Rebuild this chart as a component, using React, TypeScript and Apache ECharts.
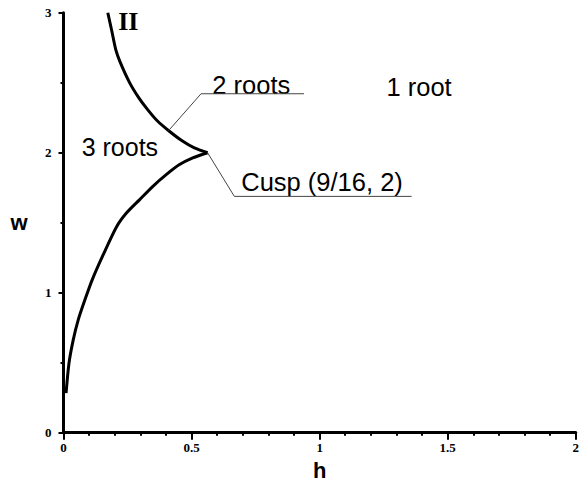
import React, { useEffect, useRef } from "react";
import * as echarts from "echarts";

// Bifurcation set in the (h, w) plane: two fold branches meeting at the cusp.
const lowerBranch: [number, number][] = [
  [0.01, 0.282], [0.0214, 0.496], [0.038, 0.663], [0.0575, 0.806], [0.0836, 0.949],
  [0.112, 1.092], [0.1547, 1.27], [0.2068, 1.47], [0.2457, 1.569], [0.2974, 1.665],
  [0.349, 1.76], [0.401, 1.843], [0.453, 1.915], [0.5046, 1.963], [0.5625, 2.0],
];
const upperBranch: [number, number][] = [
  [0.173, 3.0], [0.19, 2.857], [0.204, 2.737], [0.2216, 2.645], [0.2585, 2.499],
  [0.2935, 2.394], [0.3285, 2.308], [0.367, 2.226], [0.412, 2.155], [0.4645, 2.083],
  [0.511, 2.034], [0.5625, 2.0],
];

const hTickLabels = ["0", "0.5", "1", "1.5", "2"];
const wTickLabels = ["0", "1", "2", "3"];

// Leader lines (data coordinates)
const twoRootsLeader: [number, number][] = [[0.41, 2.157], [0.537, 2.421], [0.939, 2.421]];
const cuspLeader: [number, number][] = [[0.5625, 2.0], [0.667, 1.688], [1.359, 1.688]];

// Region / point annotations: text, anchor [h, w], alignment
const regionLabels: { text: string; at: [number, number]; align: string; size: number; serif?: boolean }[] = [
  { text: "2 roots", at: [0.581, 2.485], align: "left", size: 25.5 },
  { text: "1 root", at: [1.261, 2.47], align: "left", size: 25.5 },
  { text: "3 roots", at: [0.071, 2.04], align: "left", size: 25 },
  { text: "Cusp (9/16, 2)", at: [0.694, 1.79], align: "left", size: 25.5 },
  { text: "II", at: [0.253, 2.94], align: "center", size: 26, serif: true },
];

export default function App() {
  const ref = useRef<HTMLDivElement>(null);

  useEffect(() => {
    if (!ref.current) return;
    const chart = echarts.init(ref.current, undefined, { renderer: "svg" });
    const tickFont = {
      fontFamily: "Liberation Serif",
      fontWeight: "bold" as const,
      fontSize: 13,
      color: "#000",
    };
    const nameFont = {
      fontFamily: "Liberation Sans",
      fontWeight: "bold" as const,
      fontSize: 22,
      color: "#000",
    };
    const branchStyle = { color: "#000", width: 3 };
    chart.setOption({
      animation: false,
      backgroundColor: "#fff",
      grid: { left: 63.5, right: 4, top: 12.7, bottom: 54.3 },
      xAxis: {
        type: "value",
        min: 0,
        max: 2,
        interval: 0.5,
        name: "h",
        nameLocation: "middle",
        nameGap: 27,
        nameTextStyle: nameFont,
        axisLine: { onZero: false, lineStyle: { color: "#000", width: 3 } },
        axisTick: { length: 7, lineStyle: { color: "#000", width: 2 } },
        minorTick: { show: true, splitNumber: 5, length: 3, lineStyle: { color: "#000", width: 2 } },
        splitLine: { show: false },
        axisLabel: {
          ...tickFont,
          margin: 8,
          formatter: (v: number) => hTickLabels[Math.round(v / 0.5)] ?? "",
        },
      },
      yAxis: {
        type: "value",
        min: 0,
        max: 3,
        interval: 1,
        name: "w",
        nameLocation: "middle",
        nameRotate: 0,
        nameGap: 36,
        nameTextStyle: nameFont,
        axisLine: { onZero: false, lineStyle: { color: "#000", width: 3 } },
        axisTick: { length: 5, lineStyle: { color: "#000", width: 2 } },
        minorTick: { show: true, splitNumber: 2, length: 3, lineStyle: { color: "#000", width: 2 } },
        splitLine: { show: false },
        axisLabel: {
          ...tickFont,
          margin: 12,
          formatter: (v: number) => wTickLabels[Math.round(v)] ?? "",
        },
      },
      series: [
        {
          type: "line",
          data: lowerBranch,
          smooth: 0.25,
          showSymbol: false,
          lineStyle: branchStyle,
        },
        {
          type: "line",
          data: upperBranch,
          smooth: 0.25,
          showSymbol: false,
          lineStyle: branchStyle,
        },
        {
          type: "line",
          data: twoRootsLeader,
          showSymbol: false,
          lineStyle: { color: "#444", width: 1 },
        },
        {
          type: "line",
          data: cuspLeader,
          showSymbol: false,
          lineStyle: { color: "#444", width: 1 },
        },
      ],
    });

    const graphic = regionLabels.map((l) => {
      const [x, y] = chart.convertToPixel({ gridIndex: 0 }, l.at) as number[];
      return {
        type: "text",
        x,
        y,
        style: {
          text: l.text,
          fill: "#000",
          fontSize: l.size,
          fontFamily: l.serif ? "Liberation Serif" : "Liberation Sans",
          fontWeight: l.serif ? "bold" : "normal",
          align: l.align,
          verticalAlign: "middle",
        },
      };
    });
    chart.setOption({ graphic });

    return () => chart.dispose();
  }, []);

  return (
    <div
      ref={ref}
      style={{ position: "fixed", left: 0, top: 0, width: 582, height: 487 }}
    />
  );
}
